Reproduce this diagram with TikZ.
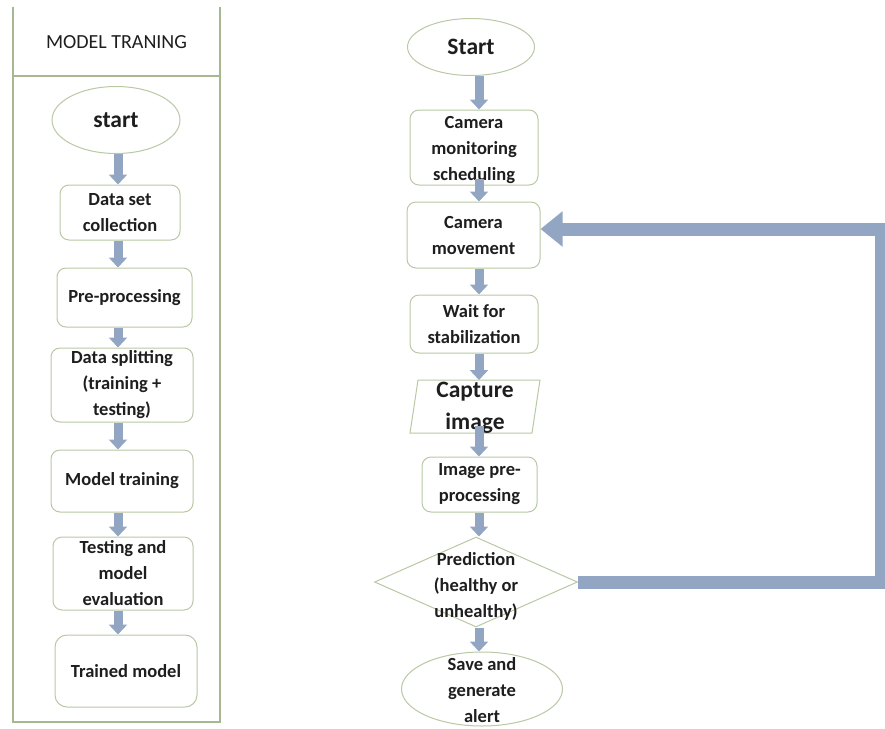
\documentclass[tikz,border=0pt]{standalone}
\usepackage{fontspec}
\setmainfont{Carlito}
\usetikzlibrary{shapes.geometric,arrows.meta}
\definecolor{framecol}{RGB}{165,184,145}
\definecolor{edgecol}{RGB}{185,200,165}
\definecolor{arrowcol}{RGB}{146,166,196}
\definecolor{inkcol}{RGB}{30,30,30}

\begin{document}
\begin{tikzpicture}[x=1pt,y=-1pt,
  shapeline/.style={draw=edgecol, line width=1pt, fill=white},
  procbox/.style={shapeline, rectangle, rounded corners=9pt, inner sep=0pt},
  oval/.style={shapeline, ellipse, inner sep=0pt},
  decision/.style={shapeline, diamond, inner sep=0pt},
  lbl/.style={text=inkcol, font=\bfseries\fontsize{18.5}{26}\selectfont, align=center, inner sep=0pt},
  biglbl/.style={lbl, font=\bfseries\fontsize{23.5}{32}\selectfont},
  flow/.style={draw=arrowcol, line width=9pt, -{Triangle[width=18pt,length=10pt]}},
  loopback/.style={draw=arrowcol, line width=13pt, line join=miter, -{Triangle[width=34pt,length=22pt]}},
]
\useasboundingbox (0,0) rectangle (885,728);

% ---------- left panel: model training ----------
\draw[framecol, line width=1.2pt] (13,7) -- (13,722) -- (220,722) -- (220,7);
\draw[framecol, line width=1.2pt] (13,76) -- (220,76);
\node[text=inkcol, font=\fontsize{20}{24}\selectfont, inner sep=0pt] (hdr) at (116.5,42) {MODEL TRANING};

\coordinate (axL) at (118,0);

\node[oval, minimum width=128pt, minimum height=67pt] (s1) at (116,120) {};
\node[biglbl] (s1t) at (s1) {start};

\node[procbox, minimum width=120pt, minimum height=55pt] (dsc) at (120,212.5) {};
\node[lbl] (dsct) at (dsc) {Data set\\collection};

\node[procbox, minimum width=135pt, minimum height=59pt] (pp) at (124.5,297.5) {};
\node[lbl] (ppt) at (pp) {Pre-processing};

\node[procbox, minimum width=142pt, minimum height=74pt] (ds) at (122,385) {};
\node[lbl] (dst) at (ds) {Data splitting\\(training +\\testing)};

\node[procbox, minimum width=142pt, minimum height=62pt] (mt) at (122,481) {};
\node[lbl] (mtt) at (mt) {Model training};

\node[procbox, minimum width=140pt, minimum height=73pt] (te) at (123,573.5) {};
\node[lbl] (tet) at (te) {Testing and\\model\\evaluation};

\node[procbox, rounded corners=12pt, minimum width=142pt, minimum height=72pt] (tm) at (126,671) {};
\node[lbl] (tmt) at (tm) {Trained model};

\draw[flow] (s1.south -| axL) -- (dsc.north -| axL);
\draw[flow] (dsc.south -| axL) -- (pp.north -| axL);
\draw[flow] (pp.south -| axL) -- (ds.north -| axL);
\draw[flow] (ds.south -| axL) -- (mt.north -| axL);
\draw[flow] (mt.south -| axL) -- (te.north -| axL);
\draw[flow] (te.south -| axL) -- (tm.north -| axL);

% ---------- right panel: monitoring loop ----------
\coordinate (axR) at (479,0);

\node[oval, minimum width=127pt, minimum height=57pt] (s2) at (471,47) {};
\node[biglbl] (s2t) at (s2) {Start};

\node[procbox, minimum width=128pt, minimum height=75pt] (cms) at (474,147.5) {};
\node[lbl] (cmst) at (474,150) {Camera\\monitoring\\scheduling};

\node[procbox, minimum width=133pt, minimum height=66pt] (cm) at (473.5,235) {};
\node[lbl] (cmt) at (cm) {Camera\\movement};

\node[procbox, minimum width=128pt, minimum height=58pt] (wt) at (474,324) {};
\node[lbl] (wtt) at (wt) {Wait for\\stabilization};

\draw[shapeline] (418,380) -- (540,380) -- (532,433) -- (410,433) -- cycle;
\coordinate (capN) at (475,380);
\coordinate (capS) at (475,426);
\node[biglbl] (capt) at (475,408) {Capture\\image};

\node[procbox, minimum width=115pt, minimum height=55pt] (ipp) at (479.5,484.5) {};
\node[lbl] (ippt) at (ipp) {Image pre-\\processing};

\node[decision, minimum width=203pt, minimum height=90pt] (pred) at (476,582) {};
\node[lbl] (predt) at (476,586) {Prediction\\(healthy or\\unhealthy)};

\node[oval, minimum width=161pt, minimum height=74pt] (sv) at (482,689) {};
\node[lbl] (svt) at (482,690) {Save and\\generate\\alert};

\draw[flow] (s2.south -| axR) -- (cms.north -| axR);
\draw[flow] ([yshift=7pt]cms.south -| axR) -- (cm.north -| axR);
\draw[flow] (cm.south -| axR) -- (wt.north -| axR);
\draw[flow] (wt.south -| axR) -- (capN -| axR);
\draw[flow] (capS -| axR) -- (ipp.north -| axR);
\draw[flow] (ipp.south -| axR) -- (pred.north -| axR);
\draw[flow] (pred.south -| axR) -- (sv.north -| axR);

% loop back from the decision to camera movement
\coordinate (loopX) at (881,0);
\coordinate (cmIn) at ([yshift=6pt]cm.east);
\draw[loopback] (pred.east) -- (pred.east -| loopX) -- (cmIn -| loopX) -- (cmIn);
\end{tikzpicture}
\end{document}
